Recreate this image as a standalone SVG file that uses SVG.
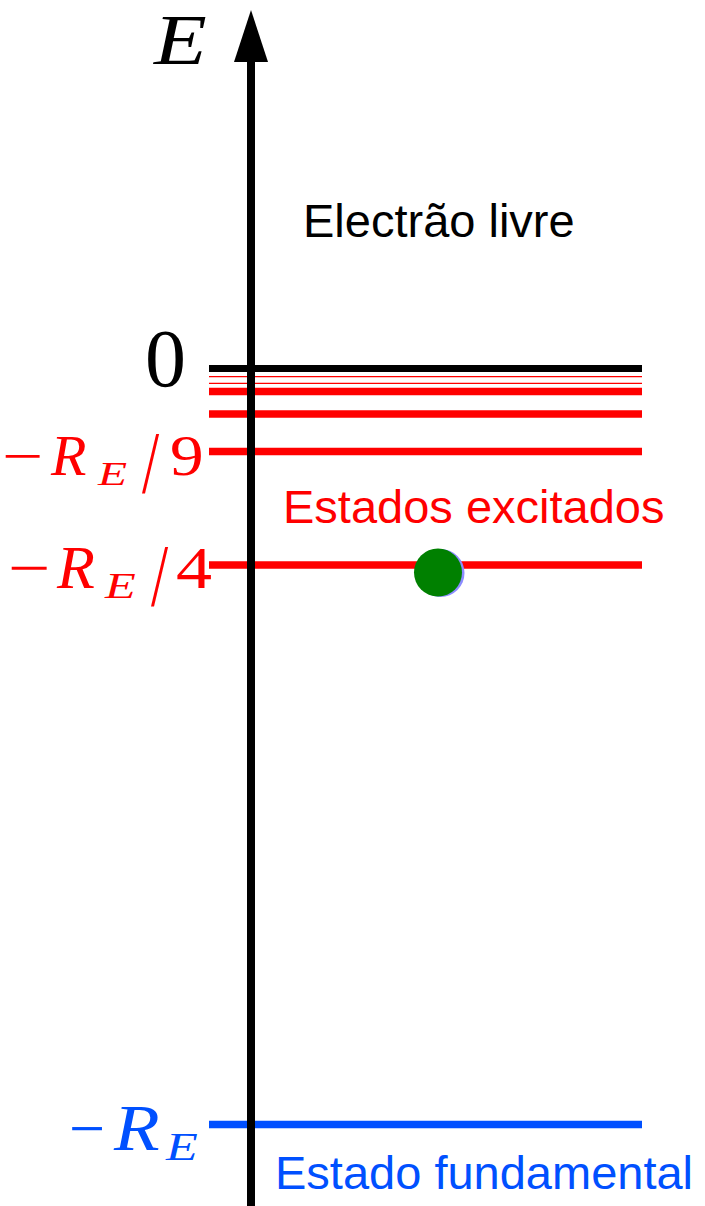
<svg xmlns="http://www.w3.org/2000/svg" width="705" height="1206" viewBox="0 0 705 1206">
<style>
.math{font-family:"Liberation Serif","Times New Roman",serif}
.it{font-style:italic}
.sans{font-family:"Liberation Sans",Arial,sans-serif;font-size:47px}
.red{fill:#ff0000}
.blue{fill:#0050ff}
.blk{fill:#000000}
.lvl{stroke:#ff0000;stroke-width:7.5;fill:none}
.thin{stroke:#ff0000;stroke-width:1.2;fill:none}
</style>
<rect width="705" height="1206" fill="#ffffff"/>
<g id="levels">
<line x1="209" y1="368.5" x2="642" y2="368.5" stroke="#000000" stroke-width="7"/>
<line class="thin" x1="209" y1="376.7" x2="642" y2="376.7"/>
<line class="thin" x1="209" y1="383.3" x2="642" y2="383.3"/>
<line class="lvl" x1="209" y1="391.5" x2="642" y2="391.5"/>
<line class="lvl" x1="209" y1="414" x2="642" y2="414"/>
<line class="lvl" x1="209" y1="451.5" x2="642" y2="451.5"/>
<line class="lvl" x1="209" y1="565" x2="642" y2="565"/>
<line x1="209" y1="1124.5" x2="642" y2="1124.5" stroke="#0050ff" stroke-width="7.5"/>
</g>
<g id="axis">
<line x1="251" y1="55" x2="251" y2="1206" stroke="#000000" stroke-width="8"/>
<polygon points="251,10 234,62 268,62" fill="#000000"/>
</g>
<g id="electron">
<circle cx="440.5" cy="573" r="24" fill="#8c8cff"/>
<circle cx="438" cy="572.5" r="24" fill="#008000"/>
</g>
<g id="label-E">
<text class="math it blk" transform="translate(154,64) scale(1.2,1)" font-size="72">E</text>
</g>
<g id="label-0">
<text class="math blk" x="145" y="386" font-size="82">0</text>
</g>
<g id="label-R9" class="math red">
<text transform="translate(2,475) scale(1.3,1)" font-size="56">−</text>
<text class="it" x="51" y="475" font-size="58">R</text>
<text class="it" transform="translate(98,485) scale(1.4,1)" font-size="34">E</text>
<text transform="translate(142,492) scale(0.7,1)" font-size="88">/</text>
<text transform="translate(170,475) scale(1.2,1)" font-size="56">9</text>
</g>
<g id="label-R4" class="math red">
<text transform="translate(8,588) scale(1.25,1)" font-size="60">−</text>
<text class="it" x="57" y="588" font-size="62">R</text>
<text class="it" transform="translate(105,598) scale(1.4,1)" font-size="36">E</text>
<text transform="translate(151,605) scale(0.7,1)" font-size="88">/</text>
<text transform="translate(176,588) scale(1.2,1)" font-size="60">4</text>
</g>
<g id="label-R1" class="math blue">
<text transform="translate(69,1150) scale(1.0,1)" font-size="64">−</text>
<text class="it" transform="translate(114,1150) scale(1.15,1)" font-size="65">R</text>
<text class="it" transform="translate(166,1160) scale(1.3,1)" font-size="40">E</text>
</g>
<g id="texts">
<text class="sans blk" x="303" y="237">Electrão livre</text>
<text class="sans red" x="283" y="523" font-size="48">Estados excitados</text>
<text class="sans blue" x="275" y="1189" font-size="48.5">Estado fundamental</text>
</g>
</svg>
